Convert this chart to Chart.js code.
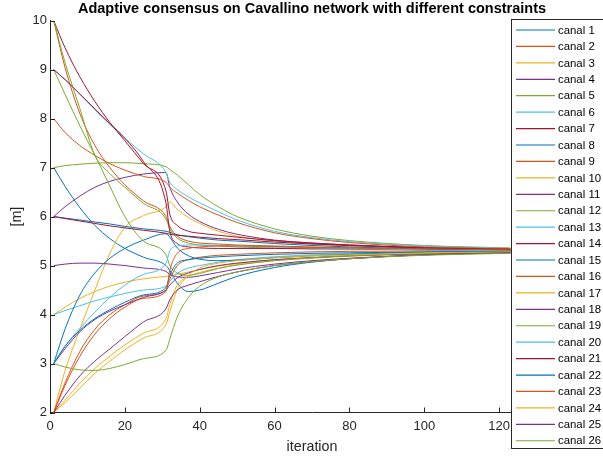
<!DOCTYPE html>
<html>
<head>
<meta charset="utf-8">
<script src="https://cdn.jsdelivr.net/npm/chart.js@4.4.1/dist/chart.umd.min.js"></script>
<style>
  html, body { margin: 0; padding: 0; background: #fff; overflow: hidden; }
</style>
</head>
<body>
<canvas id="chart" width="603" height="458"></canvas>
<script>
const iterations = [1, 4, 8, 12, 16, 20, 25, 31, 32, 34, 37, 40, 45, 50, 60, 70, 80, 100, 123];

const canal1  = [7.00, 6.62, 6.18, 5.82, 5.55, 5.35, 5.17, 5.00, 4.90, 4.64, 4.47, 4.50, 4.64, 4.78, 4.96, 5.07, 5.14, 5.22, 5.27];
const canal2  = [10.0, 9.05, 8.10, 7.45, 7.00, 6.65, 6.32, 6.00, 5.80, 5.60, 5.50, 5.46, 5.44, 5.42, 5.40, 5.38, 5.36, 5.33, 5.31];
const canal3  = [2.00, 2.85, 3.70, 4.50, 5.25, 5.78, 6.02, 6.20, 6.30, 6.15, 5.98, 5.86, 5.70, 5.60, 5.50, 5.44, 5.40, 5.35, 5.32];
const canal4  = [6.00, 6.20, 6.42, 6.60, 6.72, 6.80, 6.87, 6.90, 6.60, 6.30, 6.05, 5.90, 5.74, 5.64, 5.52, 5.46, 5.42, 5.36, 5.33];
const canal5  = [7.00, 7.04, 7.07, 7.09, 7.10, 7.10, 7.08, 7.02, 6.96, 6.85, 6.65, 6.45, 6.20, 6.00, 5.75, 5.60, 5.51, 5.41, 5.36];
const canal6  = [9.00, 8.80, 8.50, 8.18, 7.88, 7.60, 7.28, 6.90, 6.70, 6.55, 6.40, 6.28, 6.10, 5.93, 5.70, 5.57, 5.49, 5.40, 5.35];
const canal7  = [10.0, 9.45, 8.85, 8.35, 7.92, 7.55, 7.08, 6.52, 6.05, 5.82, 5.70, 5.66, 5.62, 5.58, 5.51, 5.46, 5.42, 5.37, 5.34];
const canal8  = [6.00, 5.97, 5.93, 5.89, 5.85, 5.80, 5.75, 5.70, 5.68, 5.63, 5.59, 5.56, 5.52, 5.50, 5.45, 5.41, 5.38, 5.34, 5.31];
const canal9  = [8.00, 7.72, 7.45, 7.25, 7.08, 6.95, 6.82, 6.70, 6.60, 6.48, 6.33, 6.20, 6.03, 5.88, 5.67, 5.55, 5.47, 5.38, 5.34];
const canal10 = [4.00, 4.15, 4.33, 4.47, 4.58, 4.66, 4.73, 4.78, 4.79, 4.82, 4.87, 4.92, 4.99, 5.04, 5.12, 5.17, 5.20, 5.25, 5.28];
const canal11 = [5.00, 5.03, 5.05, 5.05, 5.03, 5.00, 4.95, 4.88, 4.82, 4.77, 4.76, 4.79, 4.86, 4.93, 5.03, 5.10, 5.15, 5.22, 5.26];
const canal12 = [10.0, 9.15, 8.20, 7.25, 6.88, 6.60, 6.27, 5.95, 5.75, 5.56, 5.46, 5.42, 5.40, 5.38, 5.36, 5.35, 5.34, 5.32, 5.31];
const canal13 = [4.00, 4.08, 4.18, 4.28, 4.36, 4.43, 4.50, 4.58, 4.68, 4.84, 4.95, 5.00, 5.07, 5.12, 5.18, 5.22, 5.24, 5.27, 5.29];
const canal14 = [9.00, 8.80, 8.50, 8.20, 7.90, 7.60, 7.12, 6.27, 5.70, 5.45, 5.38, 5.36, 5.35, 5.35, 5.35, 5.34, 5.34, 5.33, 5.32];
const canal15 = [3.00, 3.70, 4.40, 4.85, 5.15, 5.35, 5.52, 5.65, 5.58, 5.36, 5.20, 5.13, 5.10, 5.11, 5.16, 5.20, 5.23, 5.27, 5.29];
const canal16 = [2.00, 2.60, 3.25, 3.70, 4.00, 4.20, 4.38, 4.50, 4.72, 5.00, 5.12, 5.17, 5.21, 5.23, 5.26, 5.28, 5.29, 5.30, 5.31];
const canal17 = [2.00, 2.25, 2.60, 2.90, 3.15, 3.38, 3.62, 3.92, 4.20, 4.60, 4.78, 4.86, 4.95, 5.02, 5.10, 5.15, 5.19, 5.24, 5.27];
const canal18 = [3.00, 3.30, 3.65, 3.90, 4.07, 4.20, 4.35, 4.50, 4.60, 4.75, 4.85, 4.92, 5.00, 5.05, 5.12, 5.16, 5.20, 5.24, 5.27];
const canal19 = [9.00, 8.50, 7.85, 7.25, 6.62, 6.00, 5.50, 5.22, 5.00, 4.85, 4.80, 4.84, 4.94, 5.01, 5.10, 5.16, 5.20, 5.25, 5.28];
const canal20 = [3.00, 3.35, 3.72, 4.05, 4.35, 4.60, 4.82, 5.05, 5.30, 5.40, 5.42, 5.42, 5.41, 5.40, 5.38, 5.36, 5.35, 5.32, 5.30];
const canal21 = [6.00, 5.96, 5.91, 5.86, 5.81, 5.77, 5.72, 5.66, 5.64, 5.62, 5.60, 5.58, 5.55, 5.53, 5.48, 5.44, 5.41, 5.36, 5.33];
const canal22 = [3.00, 3.35, 3.68, 3.92, 4.10, 4.25, 4.40, 4.55, 4.80, 5.05, 5.12, 5.15, 5.18, 5.20, 5.23, 5.25, 5.26, 5.28, 5.29];
const canal23 = [2.00, 2.55, 3.15, 3.60, 3.92, 4.15, 4.33, 4.47, 4.90, 5.25, 5.35, 5.38, 5.40, 5.40, 5.39, 5.37, 5.36, 5.34, 5.32];
const canal24 = [2.00, 2.20, 2.50, 2.80, 3.05, 3.28, 3.52, 3.80, 4.05, 4.50, 4.80, 4.95, 5.05, 5.10, 5.16, 5.20, 5.22, 5.26, 5.28];
const canal25 = [2.00, 2.35, 2.75, 3.05, 3.30, 3.55, 3.85, 4.12, 4.30, 4.50, 4.60, 4.67, 4.78, 4.87, 5.00, 5.08, 5.14, 5.22, 5.26];
const canal26 = [3.00, 2.93, 2.87, 2.86, 2.90, 2.98, 3.10, 3.27, 3.50, 3.95, 4.35, 4.58, 4.77, 4.87, 5.00, 5.08, 5.14, 5.21, 5.25];

const allCanals = [canal1, canal2, canal3, canal4, canal5, canal6, canal7, canal8, canal9, canal10,
  canal11, canal12, canal13, canal14, canal15, canal16, canal17, canal18, canal19, canal20,
  canal21, canal22, canal23, canal24, canal25, canal26];
const canalNames = allCanals.map((c, i) => 'canal ' + (i + 1));

const xTickValues = [0, 20, 40, 60, 80, 100, 120, 140];
const yTickValues = [2, 3, 4, 5, 6, 7, 8, 9, 10];

// matlab default color order
const colorOrder = ['#0072BD', '#D95319', '#EDB120', '#7E2F8E', '#77AC30', '#4DBEEE', '#A2142F'];

const FONT = '"Liberation Sans", Arial, Helvetica, sans-serif';
const AXIS = '#262626';

// inward tick marks like matlab
const innerTicks = {
  id: 'innerTicks',
  afterDatasetsDraw(chart) {
    const {ctx, chartArea, scales: {x, y}} = chart;
    ctx.save();
    ctx.strokeStyle = AXIS;
    ctx.lineWidth = 1;
    ctx.beginPath();
    x.ticks.forEach(t => {
      const px = Math.round(x.getPixelForValue(t.value)) + 0.5;
      ctx.moveTo(px, chartArea.bottom);
      ctx.lineTo(px, chartArea.bottom - 5);
    });
    y.ticks.forEach(t => {
      const py = Math.round(y.getPixelForValue(t.value)) + 0.5;
      ctx.moveTo(chartArea.left, py);
      ctx.lineTo(chartArea.left + 5, py);
    });
    ctx.stroke();
    ctx.restore();
  }
};

// boxed legend sitting over the right part of the axes
const boxLegend = {
  id: 'boxLegend',
  afterDraw(chart) {
    const {ctx} = chart;
    ctx.save();
    ctx.fillStyle = '#fff';
    ctx.fillRect(511.5, 19.5, 130, 429);
    ctx.strokeStyle = AXIS;
    ctx.lineWidth = 1;
    ctx.strokeRect(511.5, 19.5, 130, 429);
    ctx.font = '11.4px ' + FONT;
    ctx.textBaseline = 'middle';
    chart.data.datasets.forEach((ds, i) => {
      const yy = 30 + i * 16.43;
      ctx.strokeStyle = ds.borderColor;
      ctx.lineWidth = 1.2;
      ctx.beginPath();
      ctx.moveTo(516, yy);
      ctx.lineTo(555, yy);
      ctx.stroke();
      ctx.fillStyle = '#000';
      ctx.fillText(ds.label, 558, yy + 0.5);
    });
    ctx.restore();
  }
};

const datasets = allCanals.map((vals, i) => ({
  label: canalNames[i],
  data: vals.map((v, k) => ({x: iterations[k], y: v})),
  borderColor: colorOrder[i % colorOrder.length],
  borderWidth: 1,
  pointRadius: 0,
  fill: false,
  cubicInterpolationMode: 'monotone',
  order: allCanals.length - i
}));

const ctx = document.querySelector('#chart');

const myChart = new Chart(ctx, {
  type: 'line',
  data: { datasets },
  options: {
    responsive: false,
    animation: false,
    layout: { padding: { left: 0, right: 29, top: 0, bottom: 0 } },
    plugins: {
      legend: { display: false },
      tooltip: { enabled: false },
      title: {
        display: true,
        fullSize: false,
        text: 'Adaptive consensus on Cavallino network with different constraints',
        color: '#000',
        font: { family: FONT, size: 14.5, weight: 'bold' },
        padding: { top: 0, bottom: 3.3 }
      }
    },
    scales: {
      x: {
        type: 'linear',
        min: 0,
        max: 140,
        afterBuildTicks: s => { s.ticks = xTickValues.map(v => ({value: v})); },
        afterFit: s => { s.height = 45.5; },
        grid: { display: false, drawTicks: false },
        border: { color: AXIS, width: 1 },
        ticks: { color: AXIS, font: { family: FONT, size: 13 }, padding: 6, maxRotation: 0, autoSkip: false },
        title: { display: true, text: 'iteration', color: AXIS, font: { family: FONT, size: 14.3 }, padding: { top: 0, bottom: 2.5 } }
      },
      y: {
        type: 'linear',
        min: 2,
        max: 10,
        afterBuildTicks: s => { s.ticks = yTickValues.map(v => ({value: v})); },
        afterFit: s => { s.width = 50; },
        grid: { display: false, drawTicks: false },
        border: { color: AXIS, width: 1 },
        ticks: { color: AXIS, font: { family: FONT, size: 13 }, padding: 3, autoSkip: false },
        title: { display: true, text: '[m]', color: AXIS, font: { family: FONT, size: 14.3 }, padding: { top: 8, bottom: 0 } }
      }
    }
  },
  plugins: [innerTicks, boxLegend]
});
</script>
</body>
</html>
